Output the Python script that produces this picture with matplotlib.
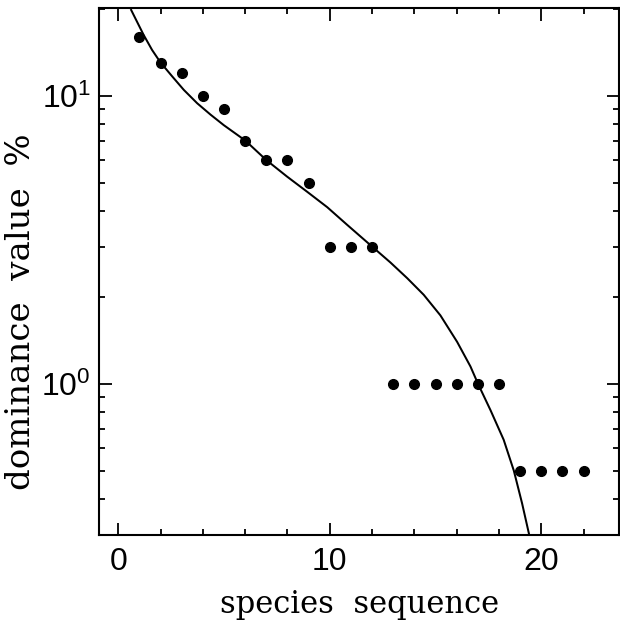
import matplotlib
matplotlib.use("Agg")
import matplotlib.pyplot as plt
from matplotlib.ticker import FixedLocator, NullFormatter

# ── data ─────────────────────────────────────────────────────────────────────

rank = list(range(1, 23))
dominance = [16, 13, 12, 10, 9, 7, 6, 6, 5,
             3, 3, 3,
             1, 1, 1, 1, 1, 1,
             0.5, 0.5, 0.5, 0.5]

# fitted curve
curve_x = [0.61, 1.20, 1.60, 1.99, 2.55, 3.10, 3.73, 4.36, 4.99,
           6.01, 6.99, 7.98, 8.93, 9.88, 10.82, 12.0, 12.87,
           13.66, 14.44, 15.23, 16.02, 16.65, 17.01, 17.60, 18.22, 18.70,
           19.09, 19.41]
curve_y = [19.9, 16.3, 14.45, 13.1, 11.7, 10.5, 9.44, 8.62, 7.92,
           7.0, 6.0, 5.25, 4.65, 4.11, 3.57, 3.0, 2.64,
           2.33, 2.04, 1.73, 1.40, 1.15, 1.0, 0.81, 0.64, 0.50,
           0.385, 0.303]

xticks = [0, 10, 20]
xminor = [2, 4, 6, 8, 12, 14, 16, 18, 22]
yticks = [1, 10]
ytick_labels = [r"$\mathregular{10^0}$", r"$\mathregular{10^1}$"]

# ── plot ─────────────────────────────────────────────────────────────────────

plt.rcParams["font.family"] = ["Liberation Sans", "DejaVu Sans"]
plt.rcParams["mathtext.default"] = "regular"

fig = plt.figure(figsize=(6.2, 6.22), dpi=100)
ax = fig.add_axes([0.160, 0.140, 0.839, 0.847])

ax.plot(curve_x, curve_y, color="black", linewidth=1.45)
ax.plot(rank, dominance, "o", color="black", markersize=7.0)

ax.set_yscale("log")
ax.set_xlim(-0.90, 23.69)
ax.set_ylim(0.299, 20.2)

ax.xaxis.set_major_locator(FixedLocator(xticks))
ax.xaxis.set_minor_locator(FixedLocator(xminor))
ax.set_yticks(yticks)
ax.set_yticklabels(ytick_labels)
ax.yaxis.set_minor_formatter(NullFormatter())

ax.tick_params(which="both", direction="in", top=True, right=True,
               labelsize=23, width=1.3)
ax.tick_params(which="major", length=9)
ax.tick_params(which="minor", length=4)
ax.tick_params(axis="x", pad=9)
ax.tick_params(axis="y", pad=6)

for sp in ax.spines.values():
    sp.set_linewidth(1.5)

ax.set_xlabel("species  sequence", family="DejaVu Serif", fontsize=22,
              labelpad=8)
ax.set_ylabel("dominance  value  %", family="DejaVu Serif", fontsize=24.5)
ax.yaxis.set_label_coords(-0.12, 0.423)

fig.savefig("out.png", dpi=100)
